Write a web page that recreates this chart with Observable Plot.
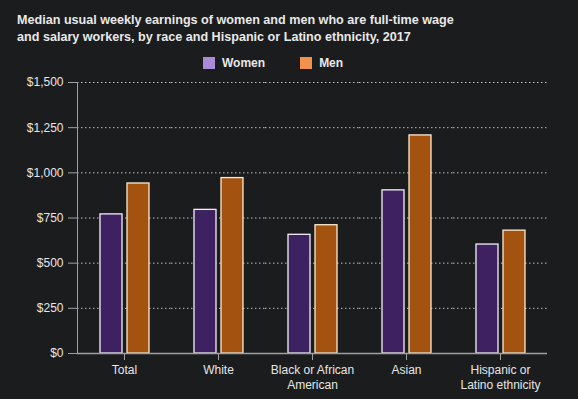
<!DOCTYPE html>
<html>
<head>
<meta charset="utf-8">
<script src="https://cdn.jsdelivr.net/npm/d3@7"></script>
<script src="https://cdn.jsdelivr.net/npm/@observablehq/plot@0.6"></script>
<style>
  html, body { margin: 0; padding: 0; background: #1b1c1e; }
  #wrap { position: relative; width: 578px; height: 399px; background: #1b1c1e; overflow: hidden;
          font-family: "Liberation Sans", Arial, Helvetica, sans-serif; color: #e8e8e8; }
  #title { position: absolute; left: 17px; top: 12px; width: 555px; font-weight: bold; font-size: 12.6px; line-height: 16.5px; }
  #legend { position: absolute; left: 203px; top: 56px; display: flex; align-items: center; font-weight: bold; font-size: 12px; line-height: 14px; }
  .item { display: flex; align-items: center; }
  .sw { width: 12px; height: 12px; margin-right: 7px; }
  #chart { position: absolute; left: 0; top: 72px; }
</style>
</head>
<body>
<div id="wrap">
  <div id="title">Median usual weekly earnings of women and men who are full-time wage<br>and salary workers, by race and Hispanic or Latino ethnicity, 2017</div>
  <div id="legend"></div>
  <div id="chart"></div>
</div>
<script>
const categories = ["Total", "White", "Black or African American", "Asian", "Hispanic or Latino ethnicity"];
const categoryLabels = ["Total", "White", "Black or African\nAmerican", "Asian", "Hispanic or\nLatino ethnicity"];
const series = ["Women", "Men"];
const womenValues = [770, 795, 657, 903, 603];
const menValues = [941, 971, 710, 1207, 680];
const yTicks = [0, 250, 500, 750, 1000, 1250, 1500];

const barColors = ["#3d2160", "#a4520f"];
const barStrokes = ["#f4f0fa", "#fbecd0"];
const legendColors = ["#a98bd8", "#f0924a"];

const data = [];
categories.forEach((c, i) => {
  data.push({category: c, sex: "Women", value: womenValues[i], edge: barStrokes[0]});
  data.push({category: c, sex: "Men", value: menValues[i], edge: barStrokes[1]});
});

// legend
const legend = document.getElementById("legend");
series.forEach((s, i) => {
  const it = document.createElement("div");
  it.className = "item";
  if (i > 0) it.style.marginLeft = "35px";
  const sw = document.createElement("div");
  sw.className = "sw";
  sw.style.background = legendColors[i];
  const t = document.createElement("span");
  t.textContent = s;
  it.appendChild(sw); it.appendChild(t);
  legend.appendChild(it);
});

const fmt = d => "$" + d3.format(",")(d);

const chart = Plot.plot({
  width: 578,
  height: 327,
  marginTop: 10,
  marginBottom: 46,
  marginLeft: 75,
  marginRight: 30,
  style: {background: "transparent", color: "#e6e6e6", fontFamily: "'Liberation Sans', Arial, sans-serif", fontSize: "12px"},
  fx: {domain: categories, padding: 0, label: null},
  x: {domain: series, paddingInner: 0.2, paddingOuter: 0.8, axis: null},
  y: {domain: [0, 1500], label: null},
  color: {domain: series, range: barColors},
  marks: [
    Plot.gridY(yTicks, {stroke: "#d0d0d0", strokeOpacity: 0.9, strokeDasharray: "1.5,2.5"}),
    Plot.barY(data, {fx: "category", x: "sex", y: "value", fill: "sex", stroke: d => d.edge, strokeWidth: 1.3}),
    Plot.ruleY([0], {stroke: "#a0a0a0", strokeWidth: 1.5}),
    Plot.frame({anchor: "left", facetAnchor: "left", stroke: "#a0a0a0"}),
    Plot.axisY(yTicks, {tickFormat: fmt, tickSize: 9, tickPadding: 5, stroke: "#a0a0a0", fill: "#e6e6e6", label: null}),
    Plot.axisFx({anchor: "bottom", tickSize: 7, tickPadding: 3, stroke: "#a0a0a0", fill: "#e6e6e6", lineHeight: 1.22,
                 tickFormat: d => categoryLabels[categories.indexOf(d)], label: null})
  ]
});
document.getElementById("chart").appendChild(chart);
</script>
</body>
</html>
